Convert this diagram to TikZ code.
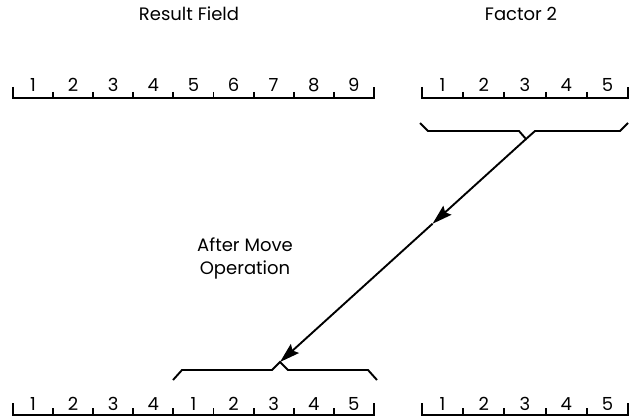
\documentclass[tikz,border=0pt]{standalone}
\usepackage{fontspec}
\setmainfont{Poppins}
\usetikzlibrary{arrows.meta,calc}

\begin{document}
\begin{tikzpicture}[x=1pt,y=-1pt,line width=1.9pt,
    lbl/.style={font=\fontsize{18}{23}\selectfont,align=center},
    digit/.style={font=\fontsize{18}{20}\selectfont,inner sep=0pt,anchor=base},
    mv/.style={-{Stealth[length=20pt,width=12pt,inset=3pt]}}]

    \useasboundingbox (0,0) rectangle (634,417);

    \node[lbl] (res) at (189, 14) {Result Field};
    \node[lbl] (fac) at (521, 14) {Factor 2};
    \node[lbl] (op) at (245, 258) {After Move\\Operation};

    % rulers, top row
    \draw (13,87) -- (13,98) -- (374,98) -- (374,87);
    \foreach \i in {1,...,8} \draw ({13+40.1*\i},92) -- ({13+40.1*\i},98);
    \foreach \d [count=\i] in {1,...,9} \node[digit] at ({13+40.1*(\i-0.5)},92) {\d};
    \draw (422,87) -- (422,98) -- (628,98) -- (628,87);
    \foreach \i in {1,...,4} \draw ({422+41.2*\i},92) -- ({422+41.2*\i},98);
    \foreach \d [count=\i] in {1,...,5} \node[digit] at ({422+41.2*(\i-0.5)},92) {\d};

    % rulers, bottom row
    \draw (13,403) -- (13,415) -- (374,415) -- (374,403);
    \foreach \i in {1,...,8} \draw ({13+40.1*\i},408) -- ({13+40.1*\i},415);
    \foreach \d [count=\i] in {1,2,3,4,1,2,3,4,5} \node[digit] at ({13+40.1*(\i-0.5)},410) {\d};
    \draw (422,403) -- (422,415) -- (628,415) -- (628,403);
    \foreach \i in {1,...,4} \draw ({422+41.2*\i},408) -- ({422+41.2*\i},415);
    \foreach \d [count=\i] in {1,...,5} \node[digit] at ({422+41.2*(\i-0.5)},410) {\d};

    % braces
    \coordinate (src) at (526,139);
    \coordinate (dst) at (280,362);
    \draw (420,123) -- (428,131) -- (519,131) -- (src) -- (535,131) -- (620,131) -- (628,123);
    \draw (173,380) -- (182,370) -- (272,370) -- (dst) -- (288,370) -- (368,370) -- (377,380);

    % move
    \coordinate (half) at ($(src)!0.38!(dst)$);
    \draw[mv] (src) -- (half);
    \draw[mv] (half) -- (dst);

\end{tikzpicture}
\end{document}
